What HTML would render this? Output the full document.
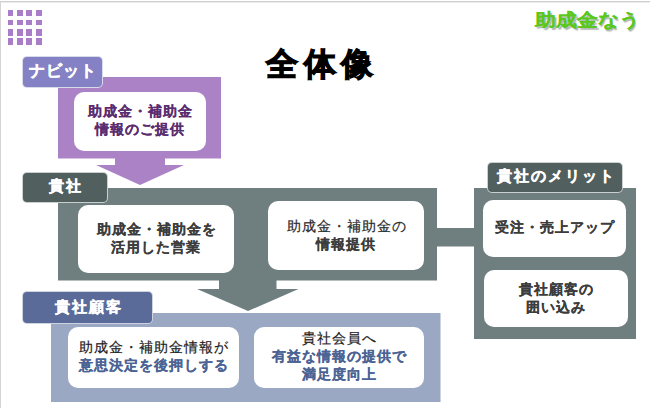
<!DOCTYPE html>
<html><head><meta charset="utf-8">
<style>
html,body{margin:0;padding:0;}
body{width:650px;height:408px;position:relative;overflow:hidden;background:#fff;font-family:"Liberation Sans",sans-serif;}
.a{position:absolute;}
.topline{left:0;top:1px;width:650px;height:1px;background:#cfcfcf;}
.topline2{left:0;top:2px;width:650px;height:1px;background:#ececec;}
.leftline{left:0;top:1px;width:1px;height:407px;background:#d4d4d4;}
.sq{width:6px;height:6px;background:#a97dc8;}
.lbl{border:1px solid rgba(255,255,255,0.7);border-radius:5px;color:#fff;font-weight:bold;-webkit-text-stroke:0.4px #fff;box-sizing:border-box;text-align:center;white-space:nowrap;}
.box{background:#fff;border-radius:10px;}
.t{-webkit-text-stroke:0.2px currentColor;white-space:nowrap;text-align:center;font-size:14px;line-height:18px;letter-spacing:1px;text-indent:1px;}
.b,b{font-weight:bold;-webkit-text-stroke:0.15px currentColor;}
</style></head><body>
<div class="a topline"></div><div class="a topline2"></div><div class="a leftline"></div>
<!-- grid icon -->
<div class="a sq" style="left:7.5px;top:10px;width:5.6px;height:5.8px"></div><div class="a sq" style="left:17px;top:10px;width:5.6px;height:5.8px"></div><div class="a sq" style="left:26.3px;top:10px;width:5.6px;height:5.8px"></div><div class="a sq" style="left:36px;top:10px;width:5.6px;height:5.8px"></div>
<div class="a sq" style="left:7.5px;top:19.8px;width:5.6px;height:5.5px"></div><div class="a sq" style="left:17px;top:19.8px;width:5.6px;height:5.5px"></div><div class="a sq" style="left:26.3px;top:19.8px;width:5.6px;height:5.5px"></div><div class="a sq" style="left:36px;top:19.8px;width:5.6px;height:5.5px"></div>
<div class="a sq" style="left:7.5px;top:29.2px;width:5.6px;height:6.8px"></div><div class="a sq" style="left:17px;top:29.2px;width:5.6px;height:6.8px"></div><div class="a sq" style="left:26.3px;top:29.2px;width:5.6px;height:6.8px"></div><div class="a sq" style="left:36px;top:29.2px;width:5.6px;height:6.8px"></div>
<div class="a sq" style="left:7.5px;top:38.4px;width:5.6px;height:7px"></div><div class="a sq" style="left:17px;top:38.4px;width:5.6px;height:7px"></div><div class="a sq" style="left:26.3px;top:38.4px;width:5.6px;height:7px"></div><div class="a sq" style="left:36px;top:38.4px;width:5.6px;height:7px"></div>

<!-- title -->
<div class="a" style="left:266px;top:40px;font-size:32px;letter-spacing:5.5px;font-weight:bold;-webkit-text-stroke:1.2px #000;color:#000;white-space:nowrap;line-height:48px">全体像</div>
<!-- logo -->
<div class="a" style="left:535px;top:6px;font-size:18px;font-weight:bold;color:#5ac81c;-webkit-text-stroke:0.1px #5ac81c;white-space:nowrap;line-height:28px;text-shadow:1.5px 2px 1px #b4b4b4;transform:scale(1.16,1);transform-origin:0 0">助成金なう</div>

<!-- purple arrow -->
<svg class="a" style="left:0;top:0" width="650" height="408">
  <polygon fill="#ab82c6" points="58,77 221,77 221,158.5 165,158.5 165,165 184,165 140,185 96,165 115,165 115,158.5 58,158.5"/>
  <polygon fill="#6f7f80" points="58,188 437,188 437,280.5 276.5,280.5 276.5,289 298.5,289 248,311 197,289 219,289 219,280.5 58,280.5"/>
  <rect fill="#6f7f80" x="437" y="228" width="38" height="18.5"/>
  <rect fill="#6f7f80" x="474" y="188" width="162" height="151"/>
  <rect fill="#9aa8c4" x="51" y="313" width="389.5" height="89"/>
</svg>
<div class="a box" style="left:74px;top:92px;width:132px;height:59px"></div>
<div class="a t b" style="left:74px;top:102px;width:132px;color:#5b2c6f">助成金・補助金<br>情報のご提供</div>
<div class="a lbl" style="left:22px;top:56px;width:81px;height:32px;background:#8482c4;font-size:16px;line-height:28px;letter-spacing:1px;text-indent:1px">ナビット</div>

<!-- 貴社 -->
<div class="a box" style="left:78px;top:205px;width:156px;height:68px"></div>
<div class="a t b" style="left:78px;top:220px;width:156px;color:#3c3c3c">助成金・補助金を<br>活用した営業</div>
<div class="a box" style="left:268px;top:201px;width:156px;height:69px"></div>
<div class="a t" style="left:268px;top:217px;width:156px;color:#2a2a2a">助成金・補助金の<br><b style="color:#3c3c3c">情報提供</b></div>
<div class="a lbl" style="left:22px;top:171.5px;width:86px;height:31px;background:#525f5f;font-size:15px;line-height:25.5px;letter-spacing:2px;text-indent:2px">貴社</div>

<!-- merit -->
<div class="a box" style="left:483px;top:200px;width:143px;height:57px"></div>
<div class="a t b" style="left:483px;top:218px;width:143px;color:#3c3c3c">受注・売上アップ</div>
<div class="a box" style="left:484px;top:270px;width:144px;height:57px"></div>
<div class="a t b" style="left:484px;top:280px;width:144px;color:#3c3c3c">貴社顧客の<br>囲い込み</div>
<div class="a lbl" style="left:487px;top:162px;width:136px;height:31px;background:#525f5f;font-size:15px;line-height:26px;letter-spacing:2px;text-indent:2px">貴社のメリット</div>

<!-- customer -->
<div class="a box" style="left:68px;top:327px;width:171px;height:61px"></div>
<div class="a t" style="left:68px;top:338px;width:171px;color:#222">助成金・補助金情報が<br><b style="color:#4b6394">意思決定を後押しする</b></div>
<div class="a box" style="left:254px;top:327px;width:170px;height:61px"></div>
<div class="a t" style="left:254px;top:329px;width:170px;color:#222">貴社会員へ<br><b style="color:#4b6394">有益な情報の提供で<br>満足度向上</b></div>
<div class="a lbl" style="left:22px;top:291px;width:131px;height:33px;background:#5a6b99;font-size:15px;line-height:30px;letter-spacing:2px;text-indent:2px">貴社顧客</div>
</body></html>
